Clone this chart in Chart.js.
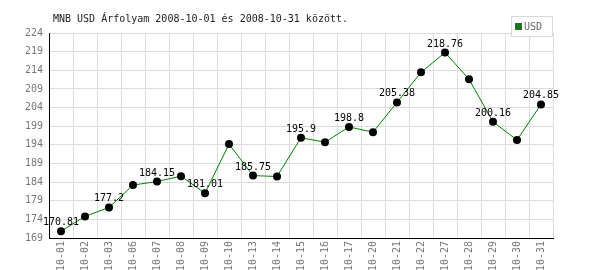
<!DOCTYPE html>
<html>
<head>
<meta charset="utf-8">
<script src="https://cdn.jsdelivr.net/npm/chart.js@4/dist/chart.umd.min.js"></script>
<style>
html,body{margin:0;padding:0;background:#fff;}
#wrap{width:600px;height:270px;position:relative;}
</style>
</head>
<body>
<div id="wrap"><canvas id="c" width="600" height="270"></canvas></div>
<script>
const titleText = "MNB USD Árfolyam 2008-10-01 és 2008-10-31 között.";
const seriesName = "USD";
const categories = ["10-01","10-02","10-03","10-06","10-07","10-08","10-09","10-10","10-13","10-14","10-15","10-16","10-17","10-20","10-21","10-22","10-27","10-28","10-29","10-30","10-31"];
const usdValues = [170.81,174.8,177.2,183.2,184.15,185.6,181.01,194.2,185.75,185.5,195.9,194.7,198.8,197.4,205.38,213.45,218.76,211.6,200.16,195.3,204.85];
const labelledIndexes = [0,2,4,6,8,10,12,14,16,18,20];
const yTicks = [169,174,179,184,189,194,199,204,209,214,219,224];

const MONO = '"DejaVu Sans Mono", "Liberation Mono", monospace';

const decorPlugin = {
  id: 'decor',
  afterDraw(chart) {
    const ctx = chart.ctx;
    const area = chart.chartArea;
    ctx.save();
    // title
    ctx.font = '10px ' + MONO;
    ctx.fillStyle = '#222';
    ctx.textAlign = 'left';
    ctx.textBaseline = 'alphabetic';
    ctx.fillText(titleText, 53, 22);
    // legend box
    const lx = 511.5, ly = 16.5, lw = 41, lh = 20;
    ctx.fillStyle = '#fff';
    ctx.fillRect(lx, ly, lw, lh);
    ctx.strokeStyle = '#d8d8d8';
    ctx.lineWidth = 1;
    ctx.strokeRect(lx, ly, lw, lh);
    ctx.fillStyle = '#008000';
    ctx.fillRect(515, 23, 7, 7);
    ctx.strokeStyle = '#555';
    ctx.strokeRect(515.5, 23.5, 6, 6);
    ctx.fillStyle = '#666';
    ctx.textBaseline = 'middle';
    ctx.fillText(seriesName, 524, 27);
    // point labels
    const meta = chart.getDatasetMeta(0);
    ctx.font = '10px ' + MONO;
    ctx.fillStyle = '#000';
    ctx.textAlign = 'center';
    ctx.textBaseline = 'alphabetic';
    labelledIndexes.forEach(i => {
      const p = meta.data[i];
      ctx.fillText(String(usdValues[i]), p.x, p.y - 6);
    });
    ctx.restore();
  }
};

new Chart(document.getElementById('c'), {
  type: 'line',
  data: {
    labels: categories,
    datasets: [{
      label: seriesName,
      data: usdValues,
      borderColor: '#008000',
      borderWidth: 1,
      backgroundColor: '#008000',
      pointBackgroundColor: '#000',
      pointBorderColor: '#000',
      pointRadius: 4,
      pointBorderWidth: 0,
      tension: 0,
      fill: false
    }]
  },
  options: {
    responsive: false,
    animation: false,
    devicePixelRatio: 1,
    layout: { padding: { left: 0, right: 47, top: 33, bottom: 0 } },
    plugins: { legend: { display: false }, title: { display: false }, tooltip: { enabled: false } },
    scales: {
      x: {
        type: 'category',
        offset: true,
        grid: { color: '#dcdcdc', offset: true, drawTicks: false, lineWidth: 1 },
        border: { color: '#000', width: 1 },
        ticks: {
          color: '#777',
          font: { family: MONO, size: 10 },
          maxRotation: 90, minRotation: 90,
          autoSkip: false,
          padding: 3
        },
        afterFit(s) { s.height = 32; }
      },
      y: {
        min: 169, max: 224,
        afterBuildTicks(s) { s.ticks = yTicks.map(v => ({ value: v })); },
        grid: { color: '#dcdcdc', drawTicks: false, lineWidth: 1 },
        border: { color: '#000', width: 1 },
        ticks: {
          color: '#777',
          font: { family: MONO, size: 10 },
          padding: 6
        },
        afterFit(s) { s.width = 49; }
      }
    }
  },
  plugins: [decorPlugin]
});
</script>
</body>
</html>
